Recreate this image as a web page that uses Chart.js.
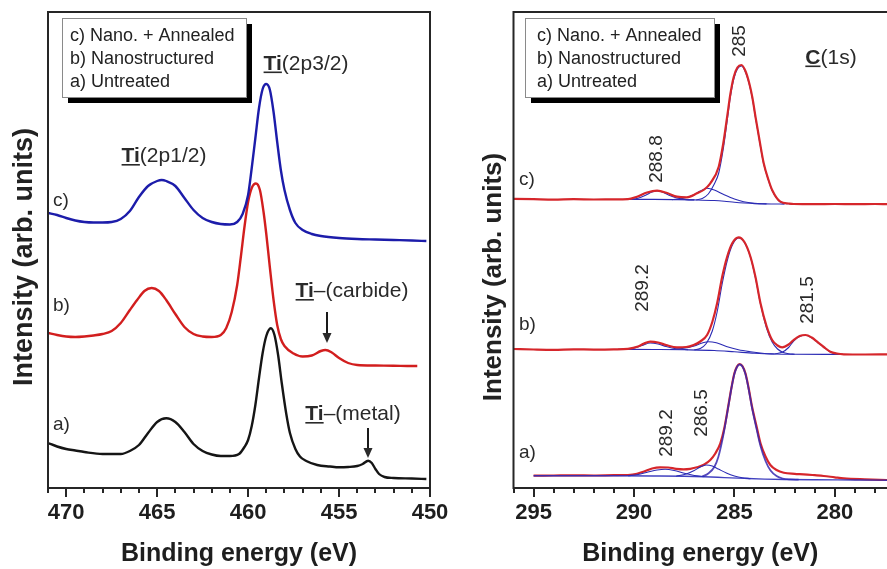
<!DOCTYPE html>
<html><head><meta charset="utf-8">
<script src="https://cdn.jsdelivr.net/npm/chart.js@4/dist/chart.umd.min.js"></script>
<style>
html,body{margin:0;padding:0;background:#fff;overflow:hidden;width:887px;height:569px}
canvas{position:absolute;top:0}
#left{left:0;z-index:1}#right{left:440px;z-index:2}
</style></head><body>
<canvas id="left" width="470" height="569"></canvas>
<canvas id="right" width="447" height="569"></canvas>
<script>
const FONT = '"Liberation Sans", Arial, Helvetica, sans-serif';
const AXIS = '#262626';

// ---------- Ti 2p panel : [binding energy (eV), intensity (arb. units)] ----------
const tiTickLabels = [470, 465, 460, 455, 450];
const tiAnnealed = [[471.0,275],[470.5,273],[470.0,270],[469.5,267.5],[469.0,266],[468.5,265.5],[468.0,265.5],[467.5,266],[467.0,269],[466.5,277],[466.0,291],[465.5,302],[465.0,307],[464.75,308],[464.5,307],[464.0,302],[463.5,290],[463.0,278],[462.5,270],[462.0,266],[461.5,264],[461.0,263.5],[460.6,266],[460.3,274],[460.0,293],[459.8,320],[459.6,350],[459.4,380],[459.2,399],[459.0,404],[458.8,398],[458.6,376],[458.4,346],[458.2,318],[458.0,298],[457.7,278],[457.4,265],[457.0,258],[456.5,254],[456.0,252],[455.0,250],[454.0,249],[453.0,248.5],[452.0,248],[451.0,247.5],[450.2,247]];
const tiNano = [[471.0,155],[470.5,153],[470.0,151.5],[469.5,151],[469.0,151.5],[468.5,152.5],[468.0,154],[467.5,157],[467.0,165],[466.5,178],[466.1,188],[465.7,197],[465.3,200],[464.9,197],[464.5,188],[464.0,174],[463.5,161],[463.0,154],[462.5,151.5],[462.0,151],[461.5,153],[461.2,160],[460.9,176],[460.6,203],[460.4,231],[460.2,261],[460.0,286],[459.8,300],[459.57,304.5],[459.35,298],[459.15,276],[459.0,254],[458.8,220],[458.6,188],[458.4,163],[458.2,149],[458.0,142],[457.5,134.5],[457.0,131.5],[456.5,132.5],[456.0,137],[455.75,138],[455.4,135.5],[455.0,130],[454.5,125],[454.0,123],[453.0,122.5],[452.0,122.3],[451.0,122],[450.7,122]];
const tiUntreated = [[471.0,45],[470.5,41.5],[470.0,39],[469.5,37.5],[469.0,36],[468.0,34],[467.0,34],[466.5,37],[466.0,43],[465.5,55],[465.0,66],[464.5,69.7],[464.0,66],[463.5,56],[463.0,44],[462.5,37],[462.0,33.5],[461.5,32],[461.0,32],[460.5,34],[460.2,41],[460.0,48],[459.8,62],[459.6,83],[459.4,110],[459.2,135],[459.0,152],[458.75,159.7],[458.55,153],[458.35,133],[458.15,105],[457.9,74],[457.7,55],[457.4,39],[457.15,31.5],[456.8,27],[456.2,23],[455.5,21.5],[455.0,20.7],[454.5,21],[454.0,22],[453.7,24],[453.4,27.3],[453.2,25],[453.0,19],[452.8,14],[452.5,11],[452.0,10],[451.0,9.5],[450.2,9]];

// ---------- C 1s panel ----------
const cTickLabels = [295, 290, 285, 280];
// c) Nano. + Annealed
const cAnnealedTotal = [[296.0,289.2],[295.0,288.8],[294.0,288.4],[293.0,288.8],[292.0,288.5],[291.0,288.6],[290.3,288.8],[289.85,291.3],[289.35,295.5],[288.85,297.3],[288.35,295],[287.86,291.3],[287.36,290.7],[286.86,294.7],[286.5,298.5],[286.2,304.7],[285.78,321.3],[285.55,345],[285.36,371.3],[285.2,394],[285.03,411.3],[284.85,420.5],[284.65,423],[284.45,417],[284.25,404],[284.1,390],[283.95,371.3],[283.75,348],[283.54,324.7],[283.3,308],[283.12,298],[282.71,286.3],[282.3,284.5],[282.05,284],[281.0,283.8],[280.0,284],[279.0,283.8],[278.0,284],[277.4,283.8]];
const cAnnealedBg = [[290.4,288.7],[289.0,288.6],[288.0,288.4],[287.0,288.1],[286.0,287.5],[285.5,286.8],[285.0,285.8],[284.5,285],[284.0,284.4],[283.5,284.1],[283.0,284],[282.5,283.9]];
const cAnnealedPk288 = [[290.2,288.7],[289.8,289.8],[289.4,293],[289.1,296],[288.85,297],[288.6,296],[288.3,293.2],[287.9,290.2],[287.4,288.4],[287.0,288.1]];
const cAnnealedPk286 = [[288.1,288.4],[287.6,289.5],[287.1,292.5],[286.7,297],[286.36,299.7],[286.0,298],[285.53,293.5],[285.0,289],[284.54,286.3],[284.0,284.8],[283.4,284.1]];
const cAnnealedPk285 = [[286.9,288.1],[286.6,289.5],[286.3,294],[286.0,304],[285.78,315],[285.55,339.5],[285.36,367],[285.2,391],[285.03,409],[284.85,419],[284.65,422],[284.45,416],[284.25,403],[284.1,389],[283.95,370.5],[283.75,347],[283.54,324],[283.3,307.5],[283.12,297.5],[282.71,286],[282.3,284.2],[282.0,283.9]];
// b) Nanostructured
const cNanoTotal = [[296.0,139],[295.0,138.5],[294.0,138.2],[293.0,138.7],[292.0,138.4],[291.0,138.6],[290.3,139.2],[289.8,141.5],[289.5,144.5],[289.19,146.3],[288.8,145.5],[288.4,143],[287.86,140.7],[287.4,141],[287.03,143],[286.7,146.5],[286.36,153],[286.1,166],[285.86,184.7],[285.6,212],[285.36,231.3],[285.1,245],[284.79,250.7],[284.5,246],[284.2,231.3],[283.95,211],[283.7,184.7],[283.4,162],[283.12,148],[282.85,142.5],[282.62,140.7],[282.3,143.5],[282.05,148],[281.75,152],[281.46,153],[281.15,150.5],[280.88,146.3],[280.55,141],[280.22,136.3],[279.9,134.5],[279.55,133.7],[278.5,133.5],[277.4,133.7]];
const cNanoBg = [[290.8,138.7],[289.0,138.5],[287.5,138.2],[286.0,137.5],[285.0,136.2],[284.0,134.8],[283.0,134],[282.0,133.7],[280.5,133.6],[279.7,133.6]];
const cNanoPk289 = [[290.6,138.7],[290.0,140],[289.6,142.5],[289.19,145],[288.8,144],[288.4,141.5],[287.9,139.2],[287.3,138.3]];
const cNanoPk286 = [[288.2,138.5],[287.6,139.5],[287.0,142],[286.6,145],[286.28,146.3],[285.9,145.2],[285.4,141.5],[284.8,138.2],[284.2,136.2],[283.5,134.5],[283.0,134]];
const cNanoPk285 = [[287.0,138.2],[286.7,139.5],[286.4,144.5],[286.1,157],[285.86,176],[285.6,205],[285.36,227],[285.1,243],[284.79,250],[284.5,245.5],[284.2,231],[283.95,210],[283.7,184],[283.4,160],[283.12,146],[282.85,139],[282.6,135.8],[282.3,134.2],[282.0,133.7]];
const cNanoPk281 = [[283.0,134],[282.6,136],[282.3,140.5],[282.05,147],[281.75,151.5],[281.46,152.8],[281.15,150.2],[280.88,146],[280.55,140.7],[280.22,136],[279.9,134.2],[279.6,133.6]];
// a) Untreated
const cUntreatedTotal = [[295.0,12.3],[294.0,12.5],[293.0,12.7],[292.0,12.5],[291.0,12.8],[290.3,13],[289.85,14.2],[289.5,16.5],[289.1,19.5],[288.7,20.7],[288.3,20.5],[287.9,19.2],[287.53,18.7],[287.2,19.2],[286.86,20.7],[286.5,23.5],[286.2,28],[285.95,34.5],[285.7,44.7],[285.5,60],[285.28,84.7],[285.14,101],[285.0,114.7],[284.87,121.5],[284.74,124],[284.6,122],[284.45,114.7],[284.3,101],[284.12,81.3],[283.9,62],[283.7,44.7],[283.45,31.5],[283.21,23],[282.9,18],[282.54,15.3],[282.0,14.2],[281.55,13.7],[281.0,12.8],[280.55,12],[280.0,10.7],[279.55,9.7],[278.5,8.7],[277.4,8]];
const cUntreatedBg = [[295.0,12.3],[291.0,12.2],[289.0,12],[287.5,11.7],[286.5,11.2],[285.5,10.4],[284.5,9.6],[283.5,8.9],[282.5,8.5],[281.0,8.2],[279.0,8],[277.4,7.8]];
const cUntreatedPk289 = [[290.3,12.2],[289.8,13.5],[289.3,16],[288.85,18],[288.45,18.7],[288.0,17.5],[287.5,14.7],[287.0,12.5],[286.5,11.4]];
const cUntreatedPk286 = [[287.9,11.8],[287.4,14],[287.0,17.5],[286.7,21],[286.41,23],[286.1,22],[285.8,19],[285.4,15],[285.0,12],[284.6,10.2],[284.2,9.4]];
const cUntreatedPk285 = [[286.6,11.5],[286.3,14.5],[286.0,21],[285.8,31],[285.53,55],[285.28,84],[285.14,100.5],[285.0,114],[284.87,121],[284.74,123.5],[284.6,121.5],[284.45,114],[284.3,100],[284.12,80],[283.9,59.5],[283.7,42],[283.45,27],[283.2,17.5],[282.9,12],[282.6,9.5],[282.2,8.6],[281.8,8.4]];

const legendLines = ['c) Nano. + Annealed', 'b) Nanostructured', 'a) Untreated'];

// ---------- helpers ----------
const pts = arr => arr.map(p => ({x: p[0], y: p[1]}));
// lower "order" is drawn on top
function line(data, color, width, order) {
  return {data: pts(data), borderColor: color, borderWidth: width, pointRadius: 0,
          fill: false, cubicInterpolationMode: 'monotone', order: order};
}
function font(size, bold) { return (bold ? 'bold ' : '') + size + 'px ' + FONT; }
function rich(ctx, parts, cx, baseY, size) {
  const w = parts.map(p => { ctx.font = font(size, p.b); return ctx.measureText(p.t).width; });
  let x = cx - w.reduce((a, b) => a + b, 0) / 2;
  ctx.textAlign = 'left'; ctx.textBaseline = 'alphabetic';
  parts.forEach((p, i) => {
    ctx.font = font(size, p.b); ctx.fillText(p.t, x, baseY);
    if (p.u) ctx.fillRect(x, baseY + 2, w[i], 1.6);
    x += w[i];
  });
}
function vtext(ctx, t, baseX, cy, size, bold) {
  ctx.save(); ctx.translate(baseX, cy); ctx.rotate(-Math.PI / 2);
  ctx.font = font(size, bold); ctx.textAlign = 'center'; ctx.textBaseline = 'alphabetic';
  ctx.fillText(t, 0, 0); ctx.restore();
}
function vtitle(ctx, t, cx, cy, size) {
  ctx.save(); ctx.translate(cx, cy); ctx.rotate(-Math.PI / 2);
  ctx.font = font(size, true); ctx.textAlign = 'center'; ctx.textBaseline = 'middle';
  ctx.fillText(t, 0, 0); ctx.restore();
}
function arrow(ctx, x, y0, y1) {
  ctx.beginPath(); ctx.moveTo(x, y0); ctx.lineTo(x, y1 - 8); ctx.lineWidth = 2; ctx.stroke();
  ctx.beginPath(); ctx.moveTo(x - 4.5, y1 - 10); ctx.lineTo(x + 4.5, y1 - 10); ctx.lineTo(x, y1); ctx.closePath(); ctx.fill();
}
function legendBox(ctx, x, y, w, h, tx) {
  ctx.fillStyle = '#000'; ctx.fillRect(x + 6, y + 6, w, h);
  ctx.fillStyle = '#fff'; ctx.fillRect(x, y, w, h);
  ctx.strokeStyle = '#8a8a8a'; ctx.lineWidth = 1; ctx.strokeRect(x + 0.5, y + 0.5, w, h);
  ctx.fillStyle = '#222'; ctx.font = font(18, false); ctx.textAlign = 'left'; ctx.textBaseline = 'alphabetic';
  legendLines.forEach((t, i) => ctx.fillText(t, tx, y + 22.5 + i * 23));
}

const decor = {
  id: 'decor',
  afterDraw(chart, args, o) {
    const ctx = chart.ctx, ca = chart.chartArea, xs = chart.scales.x, off = o.offsetX;
    ctx.save();
    ctx.strokeStyle = AXIS; ctx.lineWidth = 2;
    ctx.beginPath();
    if (o.closed) ctx.rect(ca.left, ca.top, ca.right - ca.left, ca.bottom - ca.top);
    else { ctx.moveTo(ca.right + 3, ca.top); ctx.lineTo(ca.left, ca.top); ctx.lineTo(ca.left, ca.bottom); ctx.lineTo(ca.right + 3, ca.bottom); }
    ctx.stroke();
    for (let v = Math.ceil(xs.min); v <= Math.floor(xs.max); v++) {
      const px = Math.round(xs.getPixelForValue(v));
      ctx.beginPath(); ctx.moveTo(px, ca.bottom); ctx.lineTo(px, ca.bottom + (v % 5 === 0 ? 9 : 5)); ctx.stroke();
    }
    ctx.fillStyle = '#222';
    vtitle(ctx, 'Intensity (arb. units)', o.yTitle[0] - off, o.yTitle[1], o.yTitle[2]);
    legendBox(ctx, o.legend[0] - off, o.legend[1], o.legend[2], o.legend[3], o.legend[4] - off);
    ctx.fillStyle = '#2a2a2a'; ctx.strokeStyle = '#1a1a1a';
    (o.rich || []).forEach(r => rich(ctx, r.parts, r.cx - off, r.by, r.size));
    (o.plain || []).forEach(r => { ctx.font = font(r.size, false); ctx.textAlign = 'left'; ctx.textBaseline = 'alphabetic'; ctx.fillText(r.t, r.x - off, r.by); });
    (o.vert || []).forEach(r => vtext(ctx, r.t, r.bx - off, r.cy, r.size, false));
    (o.arrows || []).forEach(a => arrow(ctx, a[0] - off, a[1], a[2]));
    ctx.restore();
  }
};

function xAxis(min, max, tickList) {
  return {
    type: 'linear', reverse: true, min: min, max: max, position: 'bottom',
    afterBuildTicks: s => { s.ticks = tickList.map(v => ({value: v})); },
    afterFit: s => { s.height = 81; s.paddingLeft = 0; s.paddingRight = 0; },
    grid: {display: false, drawTicks: false}, border: {display: false},
    ticks: {font: {family: FONT, size: 22, weight: 'bold'}, color: '#1e1e1e', padding: 12,
            autoSkip: false, maxRotation: 0, callback: v => String(v)},
    title: {display: true, text: 'Binding energy (eV)', color: '#1e1e1e',
            font: {family: FONT, size: 25, weight: 'bold'}, padding: {top: 0, bottom: 0}}
  };
}
const yAxis = {display: false, min: 0, max: 476};

new Chart(document.getElementById('left'), {
  type: 'line',
  data: {datasets: [
    line(tiAnnealed, '#1c1caa', 2.4, 1),
    line(tiNano, '#d21e1e', 2.4, 2),
    line(tiUntreated, '#151515', 2.4, 3)
  ]},
  options: {
    responsive: false, animation: false, events: [],
    layout: {padding: {left: 48, right: 40, top: 12, bottom: 0}},
    scales: {x: xAxis(450, 471, tiTickLabels), y: yAxis},
    plugins: {legend: {display: false}, tooltip: {enabled: false},
      decor: {
        offsetX: 0, closed: true, yTitle: [25, 257, 27],
        legend: [62, 18, 184, 79, 70],
        rich: [
          {parts: [{t: 'Ti', b: true, u: true}, {t: '(2p1/2)'}], cx: 164, by: 162, size: 21},
          {parts: [{t: 'Ti', b: true, u: true}, {t: '(2p3/2)'}], cx: 306, by: 69.5, size: 21},
          {parts: [{t: 'Ti', b: true, u: true}, {t: '–(carbide)'}], cx: 352, by: 297, size: 21},
          {parts: [{t: 'Ti', b: true, u: true}, {t: '–(metal)'}], cx: 353, by: 420, size: 21}
        ],
        plain: [
          {t: 'c)', x: 53, by: 206, size: 19},
          {t: 'b)', x: 53, by: 311, size: 19},
          {t: 'a)', x: 53, by: 429.5, size: 19}
        ],
        arrows: [[327, 312, 343], [368, 428, 458]]
      }}
  },
  plugins: [decor]
});

const BLUE = '#2b2bb4';
new Chart(document.getElementById('right'), {
  type: 'line',
  data: {datasets: [
    line(cAnnealedBg, BLUE, 1.1, 3), line(cAnnealedPk288, BLUE, 1.1, 3), line(cAnnealedPk286, BLUE, 1.1, 3), line(cAnnealedPk285, BLUE, 1.1, 3),
    line(cAnnealedTotal, '#d6262b', 2.2, 2),
    line(cNanoBg, BLUE, 1.1, 3), line(cNanoPk289, BLUE, 1.1, 3), line(cNanoPk286, BLUE, 1.1, 3), line(cNanoPk285, BLUE, 1.1, 3), line(cNanoPk281, BLUE, 1.1, 3),
    line(cNanoTotal, '#d6262b', 2.2, 2),
    line(cUntreatedTotal, '#d6262b', 2.2, 2),
    line(cUntreatedBg, 'rgba(45,45,185,0.9)', 1.4, 1), line(cUntreatedPk289, BLUE, 1.1, 1), line(cUntreatedPk286, BLUE, 1.1, 1),
    line(cUntreatedPk285, 'rgba(55,40,175,0.85)', 1.8, 1)
  ]},
  options: {
    responsive: false, animation: false, events: [],
    layout: {padding: {left: 73.5, right: 0, top: 12, bottom: 0}},
    scales: {x: xAxis(277.4, 296, cTickLabels), y: yAxis},
    plugins: {legend: {display: false}, tooltip: {enabled: false},
      decor: {
        offsetX: 440, closed: false, yTitle: [494, 277, 26],
        legend: [525, 18, 189, 79, 537],
        rich: [
          {parts: [{t: 'C', b: true, u: true}, {t: '(1s)'}], cx: 831, by: 63.5, size: 21}
        ],
        plain: [
          {t: 'c)', x: 519, by: 184.5, size: 19},
          {t: 'b)', x: 519, by: 330, size: 19},
          {t: 'a)', x: 519, by: 458, size: 19}
        ],
        vert: [
          {t: '285', bx: 745, cy: 41, size: 19},
          {t: '288.8', bx: 662, cy: 159, size: 19},
          {t: '289.2', bx: 648, cy: 288, size: 19},
          {t: '281.5', bx: 813, cy: 300, size: 19},
          {t: '289.2', bx: 672, cy: 433, size: 19},
          {t: '286.5', bx: 707, cy: 413, size: 19}
        ]
      }}
  },
  plugins: [decor]
});
</script>
</body></html>
